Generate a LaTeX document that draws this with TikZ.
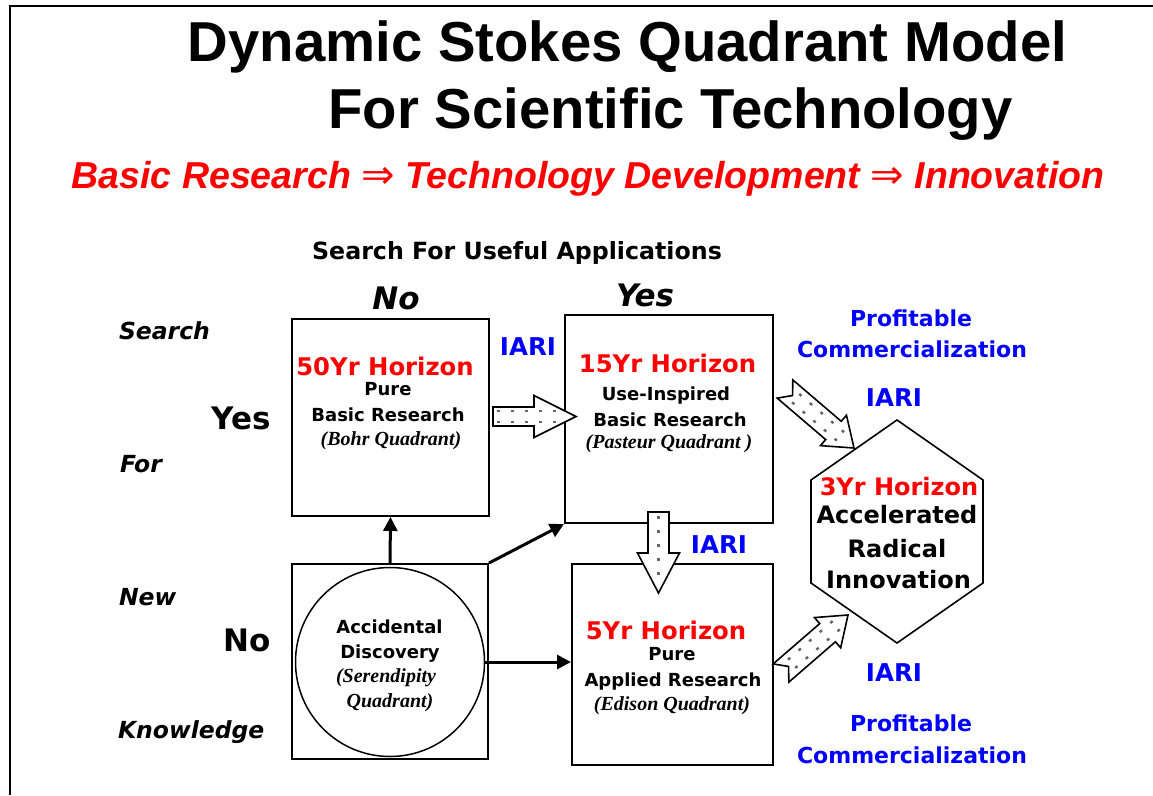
\documentclass[tikz,border=0pt]{standalone}
\usepackage{fontspec}
\setmainfont{Liberation Sans}
\newfontfamily\vfont{DejaVu Sans}
\newfontfamily\tfont{Liberation Serif}
\usetikzlibrary{calc,arrows.meta}
\definecolor{hred}{RGB}{255,0,0}
\definecolor{iblue}{RGB}{0,0,255}

\tikzset{
  txt/.style={anchor=base, inner sep=0pt, outer sep=0pt},
  ttl/.style={txt, font=\fontsize{56.3}{60}\selectfont\bfseries},
  sub/.style={txt, text=hred, font=\fontsize{37.5}{40}\selectfont\bfseries\itshape},
  hdr/.style={txt, font=\vfont\fontsize{23.7}{26}\selectfont\bfseries},
  bigax/.style={txt, font=\vfont\fontsize{31}{34}\selectfont\bfseries},
  bigaxit/.style={txt, font=\vfont\fontsize{31}{34}\selectfont\bfseries\itshape},
  side/.style={txt, anchor=base west, font=\vfont\fontsize{23.5}{26}\selectfont\bfseries\itshape},
  hor/.style={txt, text=hred, font=\vfont\fontsize{24.3}{27}\selectfont\bfseries},
  body/.style={txt, font=\vfont\fontsize{18}{20}\selectfont\bfseries},
  quadname/.style={txt, font=\tfont\fontsize{20}{22}\selectfont\bfseries\itshape},
  iari/.style={txt, text=iblue, font=\vfont\fontsize{24.5}{27}\selectfont\bfseries},
  profit/.style={txt, text=iblue, font=\vfont\fontsize{22}{25}\selectfont\bfseries},
  hexhor/.style={txt, text=hred, font=\vfont\fontsize{24}{27}\selectfont\bfseries},
  hexbody/.style={txt, font=\vfont\fontsize{24}{27}\selectfont\bfseries},
  quadbox/.style={draw, line width=2pt, rectangle, inner sep=0pt},
  conn/.style={line width=3pt, -{Triangle[length=14pt,width=14pt]}},
  barrow/.style={draw, fill=white, line width=1.6pt, line join=miter},
  dotrow/.style={draw=black!60, line width=2.4pt, dash pattern=on 3pt off 11pt},
}

% double arrow sign used in the subtitle
\newcommand\impl{{\vfont\mdseries\upshape\fontsize{40}{40}\selectfont ⇒}}

% block arrow: tail, tip, shaft half-width, head half-width, head length,
% tail notch depth, list of dot-row offsets
\newcommand\blockarrow[7]{%
  \path[barrow] let \p1=($(#2)-(#1)$), \n1={atan2(\y1,\x1)},
      \n2={veclen(\x1,\y1)-#5} in
    ($(#1)+(\n1:#6pt)$)
    -- ($(#1)+(\n1+90:#3pt)$)
    -- ($(#1)+(\n1:\n2)+(\n1+90:#3pt)$)
    -- ($(#1)+(\n1:\n2)+(\n1+90:#4pt)$)
    -- (#2)
    -- ($(#1)+(\n1:\n2)+(\n1-90:#4pt)$)
    -- ($(#1)+(\n1:\n2)+(\n1-90:#3pt)$)
    -- ($(#1)+(\n1-90:#3pt)$) -- cycle;
  \foreach \dd in {#7} {
    \path[dotrow] let \p1=($(#2)-(#1)$), \n1={atan2(\y1,\x1)},
        \n2={veclen(\x1,\y1)-13}, \n3={#6+4} in
      ($(#1)+(\n1:\n3 pt)+(\n1+90:\dd pt)$) -- ($(#1)+(\n1:\n2)+(\n1+90:\dd pt)$);
  }
}

\begin{document}
\begin{tikzpicture}[x=1pt, y=-1pt]
\useasboundingbox (0,0) rectangle (1153,795);

% slide frame (top and left edges)
\draw[line width=2pt] (10,795) -- (10,6) -- (1153,6);

% titles
\node[ttl] (t1) at (627.5,61) {Dynamic Stokes Quadrant Model};
\node[ttl] (t2) at (670.5,128) {For Scientific Technology};
\node[sub] (t3) at (588,188) {Basic Research \impl{} Technology Development \impl{} Innovation};

% axis headings
\node[hdr] (hx) at (517,259) {Search For Useful Applications};
\node[bigaxit] (axno) at (396,309) {No};
\node[bigaxit] (axyes) at (645,306) {Yes};
\node[side] (s1) at (119,339) {Search};
\node[side] (s2) at (120,472) {For};
\node[side] (s3) at (119,605) {New};
\node[side] (s4) at (118,738) {Knowledge};
\node[bigax, anchor=base east] (ayes) at (271,429) {Yes};
\node[bigax, anchor=base east] (ano) at (271,651) {No};

% quadrant boxes
\node[quadbox, minimum width=197pt, minimum height=197pt] (bohr) at (390.5,417.5) {};
\node[quadbox, minimum width=208pt, minimum height=208pt] (pasteur) at (669,419) {};
\node[quadbox, minimum width=196pt, minimum height=195pt] (seren) at (390,661.5) {};
\node[quadbox, minimum width=201pt, minimum height=201pt] (edison) at (672.5,664.5) {};
\node[draw, circle, line width=1.5pt, minimum size=189pt, inner sep=0pt] (circ) at (390,662) {};

% box texts
\node[hor] (b1) at (385,375) {50Yr Horizon};
\node[body] (b2) at (388,395) {Pure};
\node[body] (b3) at (388,421) {Basic Research};
\node[quadname] (b4) at (391,445) {(Bohr Quadrant)};

\node[hor] (p1) at (667.5,372) {15Yr Horizon};
\node[body] (p2) at (666,400) {Use-Inspired};
\node[body] (p3) at (670,426) {Basic Research};
\node[quadname] (p4) at (669,448) {(Pasteur Quadrant )};

\node[hor] (e1) at (666,639) {5Yr Horizon};
\node[body] (e2) at (672,660) {Pure};
\node[body] (e3) at (673,686) {Applied Research};
\node[quadname] (e4) at (672,710) {(Edison Quadrant)};

\node[body] (c1) at (389.5,633) {Accidental};
\node[body] (c2) at (390,658) {Discovery};
\node[quadname] (c3) at (386,682) {(Serendipity};
\node[quadname] (c4) at (390,707) {Quadrant)};

% hexagon
\coordinate (hx1) at (897,420);
\coordinate (hx2) at (983,480);
\coordinate (hx3) at (983,583);
\coordinate (hx4) at (897,643);
\coordinate (hx5) at (811,583);
\coordinate (hx6) at (811,480);
\draw[line width=1.6pt, line join=miter] (hx1) -- (hx2) -- (hx3) -- (hx4) -- (hx5) -- (hx6) -- cycle;
\node[hexhor] (h1) at (899,495) {3Yr Horizon};
\node[hexbody] (h2) at (897,523) {Accelerated};
\node[hexbody] (h3) at (897,557) {Radical};
\node[hexbody] (h4) at (898.5,588) {Innovation};

% plain connectors from the serendipity quadrant
\draw[conn] (seren.north) -- (bohr.south);
\draw[conn] (seren.north east) -- (pasteur.south west);
\draw[conn] (circ.east) -- (circ.east -| edison.west);

% block arrows
\coordinate (ba1s) at (493,416.5);
\coordinate (ba1e) at (576,416.5);
\coordinate (ba2s) at (658.5,512);
\coordinate (ba2e) at (658.5,593);
\coordinate (ba3s) at (785,389);
\coordinate (ba3e) at (854,448);
\coordinate (ba4s) at (781,673);
\coordinate (ba4e) at (848,615);
\blockarrow{ba1s}{ba1e}{9.5}{21}{42}{0}{-5.5,5.5}
\blockarrow{ba2s}{ba2e}{10.5}{21}{40}{0}{0}
\blockarrow{ba3s}{ba3e}{12}{20}{27}{10}{-5.5,5.5}
\blockarrow{ba4s}{ba4e}{12}{20}{27}{10}{-5.5,5.5}

% IARI and commercialization labels
\node[iari] (i1) at (528,355) {IARI};
\node[iari] (i2) at (719,553) {IARI};
\node[iari] (i3) at (894,406) {IARI};
\node[iari] (i4) at (894,681) {IARI};
\node[profit] (pc1) at (911,326) {Profitable};
\node[profit] (pc2) at (912,357) {Commercialization};
\node[profit] (pc3) at (911,731) {Profitable};
\node[profit] (pc4) at (912,763) {Commercialization};
\end{tikzpicture}
\end{document}
